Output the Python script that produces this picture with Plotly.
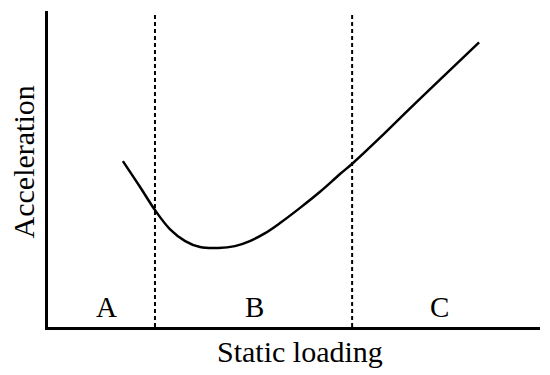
import plotly.graph_objects as go

# Curve (abstract units, 0-10 on both axes)
curve_x = [1.61, 1.98, 2.30, 2.62, 2.95, 3.27, 3.66, 4.02, 4.34, 4.67, 4.99,
           5.42, 5.85, 6.28, 6.56, 7.14, 7.78, 8.43, 9.27]
curve_y = [5.25, 4.43, 3.70, 3.10, 2.72, 2.53, 2.50, 2.56, 2.72, 2.97, 3.29,
           3.77, 4.28, 4.84, 5.19, 5.99, 6.91, 7.83, 9.01]

# Region boundaries (dashed lines)
boundaries = [2.30, 6.54]
boundary_top = 9.97

# Region labels
region_labels = ["A", "B", "C"]
region_x = [1.25, 4.43, 8.41]
region_y = 0.63

x_title = "Static loading"
y_title = "Acceleration"

FONT = "Liberation Serif, Times New Roman, serif"

fig = go.Figure()
fig.add_trace(go.Scatter(x=curve_x, y=curve_y, mode="lines",
                         line=dict(color="black", width=2.5, shape="spline", smoothing=1.0),
                         showlegend=False, hoverinfo="skip"))
for b in boundaries:
    fig.add_trace(go.Scatter(x=[b, b], y=[0, boundary_top], mode="lines",
                             line=dict(color="black", width=2, dash="4px,3px"),
                             showlegend=False, hoverinfo="skip"))

for lab, lx in zip(region_labels, region_x):
    fig.add_annotation(x=lx, y=region_y, text=lab, showarrow=False,
                       xref="x", yref="y", yanchor="middle",
                       font=dict(family=FONT, size=29, color="black"))

fig.add_annotation(x=0.512, y=-0.079, xref="paper", yref="paper", text=x_title,
                   showarrow=False, xanchor="center", yanchor="middle",
                   font=dict(family=FONT, size=30, color="black"))
fig.add_annotation(x=-0.05, y=0.522, xref="paper", yref="paper", text=y_title,
                   showarrow=False, textangle=-90, xanchor="center", yanchor="middle",
                   font=dict(family=FONT, size=30, color="black"))

# page body has an 8px margin, so the figure is offset by 8px
fig.update_layout(
    width=542, height=367,
    margin=dict(l=40, r=10, t=3, b=48),
    paper_bgcolor="white", plot_bgcolor="white",
    xaxis=dict(range=[0, 10.58], showgrid=False, zeroline=False, showticklabels=False,
               ticks="", showline=True, linecolor="black", linewidth=2.5),
    yaxis=dict(range=[0, 10], showgrid=False, zeroline=False, showticklabels=False,
               ticks="", showline=True, linecolor="black", linewidth=2.5),
)

fig.write_html("out.html")
